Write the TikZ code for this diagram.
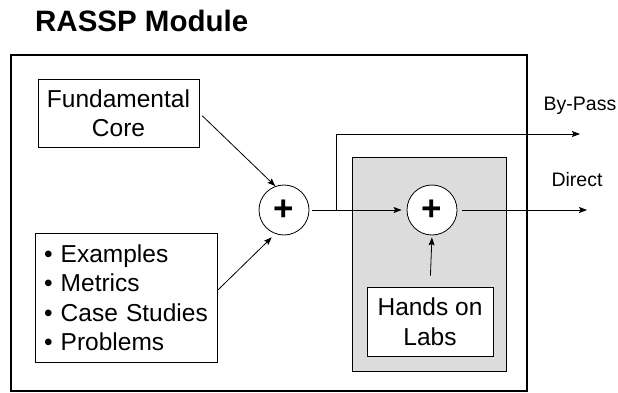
\documentclass[tikz,border=0pt]{standalone}
\usepackage{fontspec}
\setmainfont{Liberation Sans}
\usetikzlibrary{arrows.meta,positioning,calc}
\definecolor{labGray}{RGB}{220,220,220}

\begin{document}
\begin{tikzpicture}[x=1pt,y=-1pt,
    box/.style={rectangle, draw=black, fill=white, line width=0.8pt,
                inner sep=0pt, font=\fontsize{24.5}{29.5}\selectfont},
    sum/.style={circle, draw=black, fill=white, line width=0.8pt,
                minimum size=50pt, inner sep=0pt,
                font=\fontsize{35}{35}\selectfont\bfseries},
    lbl/.style={font=\fontsize{19.5}{19.5}\selectfont, inner sep=0pt},
    arr/.style={-{Stealth[length=8pt,width=6pt,inset=1.5pt]}, line width=0.8pt}
  ]
  \useasboundingbox (0,0) rectangle (618,393);

  % Title and module frame
  \node[anchor=base west, inner sep=0pt,
        font=\fontsize{29.5}{29.5}\selectfont\bfseries] (title) at (35,32) {RASSP Module};
  \draw[line width=2pt] (11,55) rectangle (527,391);

  % Lab area
  \node[rectangle, draw=black, fill=labGray, line width=0.8pt,
        minimum width=154pt, minimum height=214pt] (lab) at (429,264) {};

  % Blocks
  \node[box, minimum width=161pt, minimum height=68pt, align=center]
    (fund) at (118.5,113) {Fundamental\\Core};
  \node[box, minimum width=182pt, minimum height=129pt, align=left,
        inner xsep=9pt, text width=164pt] (bullets) at (126,297.5)
    {\textbullet\ Examples\\\textbullet\ Metrics\\\textbullet\ Case Studies\\\textbullet\ Problems};
  \node[sum] (sum1) at (284,210) {+};
  \node[sum] (sum2) at (432,210) {+};
  \node[box, minimum width=126pt, minimum height=69pt, align=center]
    (labs) at (430,321.5) {Hands on\\Labs};

  % Outputs
  \coordinate (split) at (336,210);
  \coordinate (bypassEnd) at (580,134);
  \coordinate (directEnd) at (587,210);
  \node[lbl] (bypassLbl) at (580,106) {By-Pass};
  \node[lbl] (directLbl) at (577,180) {Direct};

  % Connections
  \draw[arr, shorten <=4pt] (fund.east) -- (sum1.110);
  \draw[arr, shorten >=5pt] ([yshift=7pt]bullets.east) -- (sum1.250);
  \draw[arr, shorten <=3pt, shorten >=5pt] (sum1.east) -- (sum2.west);
  \draw[arr] (split) |- (bypassEnd);
  \draw[arr, shorten <=5pt] (sum2.east) -- (directEnd);
  \draw[arr, shorten <=11pt, shorten >=2pt] (labs.north) -- (sum2.south);
\end{tikzpicture}
\end{document}
